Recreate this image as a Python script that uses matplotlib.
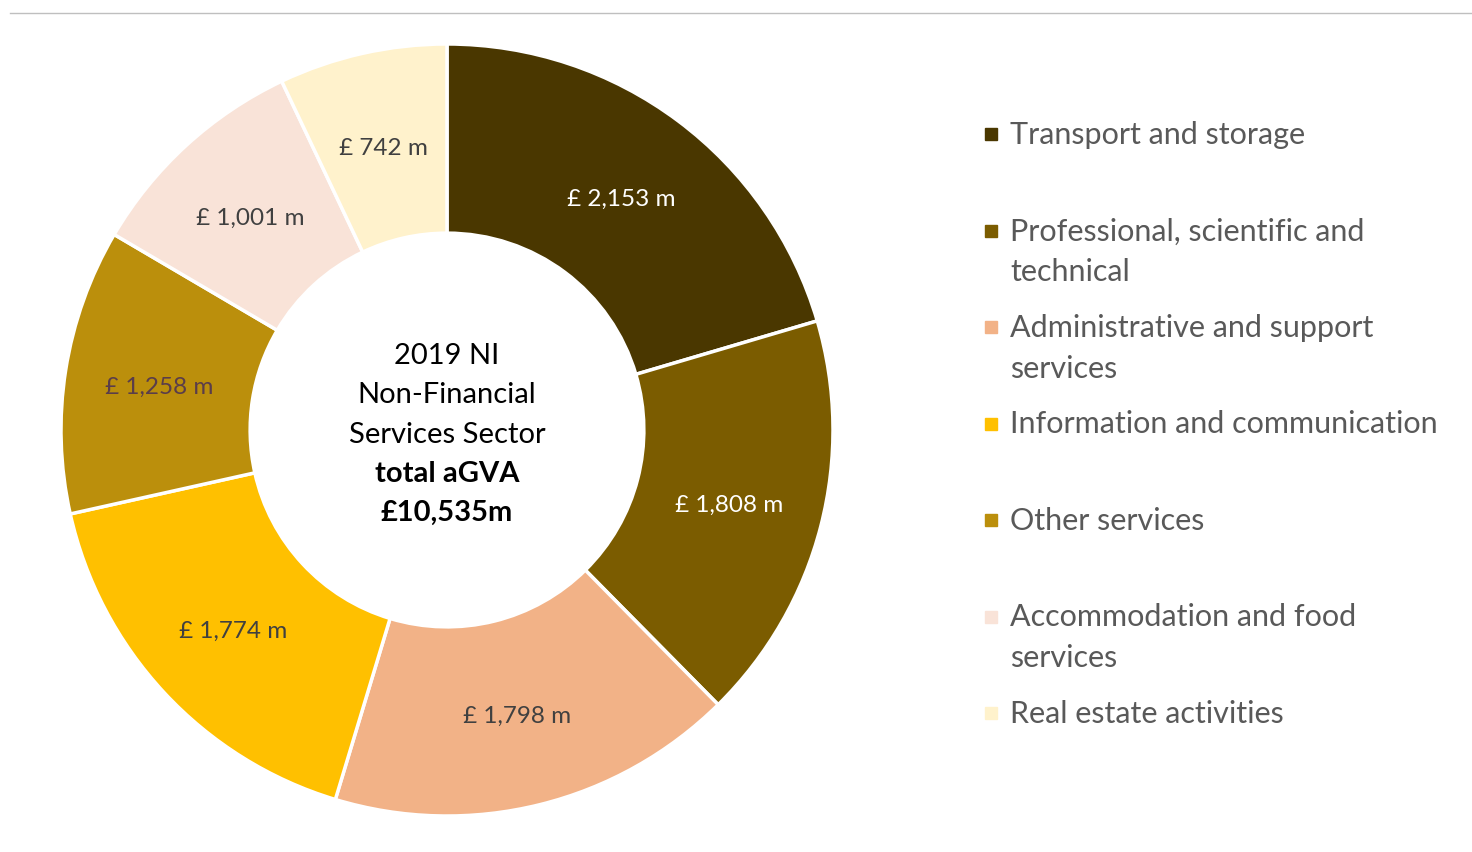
#!/usr/bin/env python3
# -*- coding: utf-8 -*-

"""
Doughnut chart of the 2019 NI non-financial services sector aGVA, split by
industry, with a hand placed legend down the right hand side.
"""

from matplotlib import pyplot as plt
from matplotlib.lines import Line2D

sectors = [
    "Transport and storage",
    "Professional, scientific and\ntechnical",
    "Administrative and support\nservices",
    "Information and communication",
    "Other services",
    "Accommodation and food\nservices",
    "Real estate activities",
]
values = [2153, 1808, 1798, 1774, 1258, 1001, 742]
value_labels = ["£ 2,153 m", "£ 1,808 m", "£ 1,798 m", "£ 1,774 m", "£ 1,258 m", "£ 1,001 m", "£ 742 m"]
colours = ["#4a3700", "#7b5c00", "#f2b287", "#ffc000", "#bb8f0c", "#f9e3d8", "#fff2cc"]
label_colours = ["white", "white", "#404040", "#404040", "#5a3d4a", "#404040", "#404040"]
centre_lines = ["2019 NI", "Non-Financial", "Services Sector", "total aGVA", "£10,535m"]
centre_bold = [False, False, False, True, True]

FONT = "Lato"
W, H = 1472, 852


def create_plot():
    """
    Create the doughnut figure and save it to out.png.
    """

    fig = plt.figure(figsize=(W / 100, H / 100), dpi=100)

    # put the doughnut where it sits in the original, centre (447, 430) px
    cx, cy, r = 447, 430, 386
    ax = fig.add_axes([(cx - r) / W, (H - cy - r) / H, 2 * r / W, 2 * r / H])

    wedges, texts, autotexts = ax.pie(
        values, colors=colours, startangle=90, counterclock=False, radius=1,
        wedgeprops=dict(width=0.49, edgecolor="white", linewidth=2.5),
        autopct="%1.0f", pctdistance=0.755,
    )
    for t, lab, col in zip(autotexts, value_labels, label_colours):
        t.set_text(lab)
        t.set_color(col)
        t.set_fontsize(17.5)
        t.set_family(FONT)
        # nudge down a touch so the labels sit as in the original
        x, y = t.get_position()
        t.set_position((x, y - 3 / r))

    ax.set_xlim(-1, 1)
    ax.set_ylim(-1, 1)
    ax.set_aspect("equal")
    ax.axis("off")

    # text in the hole of the doughnut
    line_step = 39.2 / r
    top = (len(centre_lines) - 1) / 2 * line_step
    for i, (line, bold) in enumerate(zip(centre_lines, centre_bold)):
        ax.text(0, top - i * line_step - 4.5 / r, line, ha="center", va="center", fontsize=21,
                family=FONT, fontweight="bold" if bold else "normal", color="black")

    # legend, drawn by hand as the entries are evenly spaced whatever their size
    for i, (name, col) in enumerate(zip(sectors, colours)):
        y = 1 - (134 + i * 96.5) / H
        fig.add_artist(Line2D([991 / W], [y], marker="s", markersize=9, color=col,
                              markeredgecolor=col, linestyle="none"))
        fig.text(1010 / W, y + 13 / H, name, ha="left", va="top", fontsize=22,
                 family=FONT, color="#595959", linespacing=1.55)

    # thin rule along the top of the picture
    fig.add_artist(Line2D([10 / W, 1], [1 - 13 / H, 1 - 13 / H], color="#bfbfbf", linewidth=1))

    fig.savefig("out.png", dpi=100)
    plt.close(fig)


def main():
    create_plot()


if __name__ == "__main__":
    main()
